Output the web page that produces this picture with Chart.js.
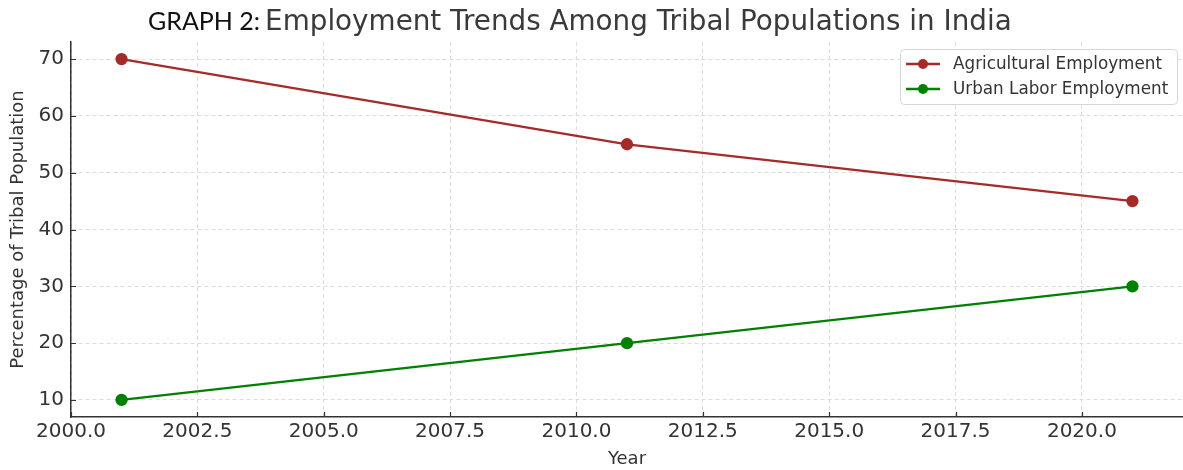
<!DOCTYPE html>
<html>
<head>
<meta charset="utf-8">
<script src="https://cdn.jsdelivr.net/npm/chart.js@4"></script>
<style>
  html, body { margin: 0; padding: 0; background: #fff; }
  #wrap { position: relative; width: 1183px; height: 470px; }
  #title { position: absolute; left: 148px; top: 0px; white-space: nowrap; color: #3a3a3a; line-height: 40px; }
  #title .lead { font-family: Lato, "Open Sans", sans-serif; font-size: 25px; color: #111; margin-right: 5px; }
  #title .rest { font-family: "DejaVu Sans", sans-serif; font-size: 27.8px; }
</style>
</head>
<body>
<div id="wrap">
  <canvas id="trendChart" width="1183" height="470"></canvas>
  <div id="title"><span class="lead">GRAPH 2:</span><span class="rest">Employment Trends Among Tribal Populations in India</span></div>
</div>
<script>
// 数据
const years = [2001, 2011, 2021];
const agricultural = [70, 55, 45];
const urbanLabor = [10, 20, 30];
const seriesNames = ['Agricultural Employment', 'Urban Labor Employment'];
const seriesColors = ['#a52a2a', '#008000'];

const textColor = '#333';
const tickFont = { family: 'DejaVu Sans', size: 20 };
const titleFont = { family: 'DejaVu Sans', size: 18 };

// 向内的刻度线
const innerTicks = {
    id: 'innerTicks',
    afterDraw(chart) {
        const ctx = chart.ctx;
        const x = chart.scales.x, y = chart.scales.y;
        ctx.save();
        ctx.strokeStyle = '#333';
        ctx.lineWidth = 1.2;
        ctx.beginPath();
        x.ticks.forEach(t => {
            const px = Math.round(x.getPixelForValue(t.value)) + 0.5;
            ctx.moveTo(px, y.bottom);
            ctx.lineTo(px, y.bottom - 5);
        });
        y.ticks.forEach(t => {
            const py = Math.round(y.getPixelForValue(t.value)) + 0.5;
            ctx.moveTo(x.left, py);
            ctx.lineTo(x.left + 5, py);
        });
        ctx.stroke();
        ctx.restore();
    }
};

// 图例（线 + 圆点）
const lineLegend = {
    id: 'lineLegend',
    afterDraw(chart) {
        const ctx = chart.ctx;
        const bx = 900, by = 49, bw = 277, bh = 55;
        ctx.save();
        ctx.fillStyle = 'rgba(255,255,255,0.85)';
        ctx.strokeStyle = '#d6d6d6';
        ctx.lineWidth = 1;
        ctx.beginPath();
        ctx.roundRect(bx + 0.5, by + 0.5, bw, bh, 4);
        ctx.fill();
        ctx.stroke();
        ctx.font = '16.8px "DejaVu Sans"';
        ctx.textBaseline = 'middle';
        chart.data.datasets.forEach((ds, i) => {
            const cy = by + 15 + i * 25;
            ctx.strokeStyle = ds.borderColor;
            ctx.lineWidth = 2.5;
            ctx.beginPath();
            ctx.moveTo(bx + 6, cy);
            ctx.lineTo(bx + 40, cy);
            ctx.stroke();
            ctx.fillStyle = ds.borderColor;
            ctx.beginPath();
            ctx.arc(bx + 23, cy, 5, 0, Math.PI * 2);
            ctx.fill();
            ctx.fillStyle = textColor;
            ctx.fillText(ds.label, bx + 53, cy + 1);
        });
        ctx.restore();
    }
};

const ctx = document.getElementById('trendChart').getContext('2d');
new Chart(ctx, {
    type: 'line',
    data: {
        datasets: [
            {
                label: seriesNames[0],
                data: years.map((yr, i) => ({ x: yr, y: agricultural[i] })),
                borderColor: seriesColors[0],
                backgroundColor: seriesColors[0],
                borderWidth: 2.3,
                pointRadius: 5,
                pointHoverRadius: 5
            },
            {
                label: seriesNames[1],
                data: years.map((yr, i) => ({ x: yr, y: urbanLabor[i] })),
                borderColor: seriesColors[1],
                backgroundColor: seriesColors[1],
                borderWidth: 2.3,
                pointRadius: 5,
                pointHoverRadius: 5
            }
        ]
    },
    options: {
        responsive: false,
        animation: false,
        layout: { autoPadding: false, padding: { top: 42, right: 0, left: 0, bottom: 0 } },
        plugins: {
            legend: { display: false },
            title: { display: false },
            tooltip: { enabled: false }
        },
        scales: {
            x: {
                type: 'linear',
                min: 2000,
                max: 2022,
                afterFit: s => { s.height = 53; },
                ticks: {
                    stepSize: 2.5,
                    includeBounds: false,
                    color: textColor,
                    font: tickFont,
                    padding: 3,
                    maxRotation: 0,
                    callback: v => v.toFixed(1)
                },
                grid: { color: '#d4d4d4', lineWidth: 0.8, drawTicks: false },
                border: { display: true, color: '#333', width: 1.5, dash: [4, 3] },
                title: { display: true, text: 'Year', color: textColor, font: titleFont, padding: { top: 0, bottom: 0 } }
            },
            y: {
                min: 7,
                max: 73,
                afterFit: s => { s.width = 71; },
                ticks: {
                    stepSize: 10,
                    includeBounds: false,
                    color: textColor,
                    font: tickFont,
                    padding: 7
                },
                grid: { color: '#d4d4d4', lineWidth: 0.8, drawTicks: false },
                border: { display: true, color: '#333', width: 1.5, dash: [4, 3] },
                title: { display: true, text: 'Percentage of Tribal Population', color: textColor, font: titleFont, padding: { top: 8, bottom: 0 } }
            }
        }
    },
    plugins: [innerTicks, lineLegend]
});
</script>
</body>
</html>
